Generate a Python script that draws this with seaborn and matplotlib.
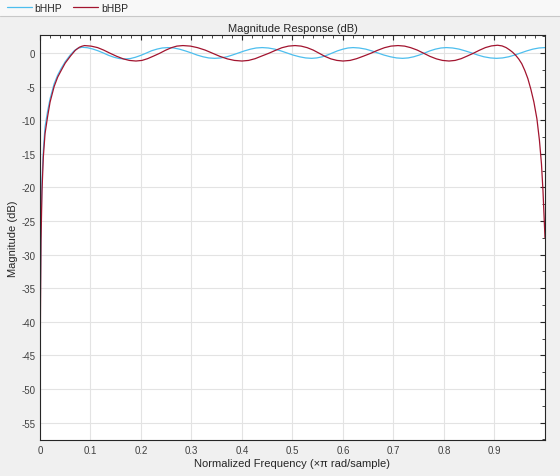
import numpy as np
import pandas as pd
import matplotlib
matplotlib.use("Agg")
import matplotlib.pyplot as plt
from matplotlib.patches import Rectangle
from matplotlib.ticker import MultipleLocator
import seaborn as sns

# values
freq_hhp = [0, 0.001, 0.002, 0.004, 0.0066, 0.01, 0.015, 0.02, 0.028, 0.035,
            0.042, 0.05, 0.06, 0.068, 0.075, 0.083,
            0.094, 0.104, 0.115, 0.126, 0.136, 0.147, 0.157, 0.168,
            0.179, 0.189, 0.2, 0.211, 0.221, 0.232, 0.242, 0.253,
            0.265, 0.276, 0.288, 0.3, 0.311, 0.323, 0.334, 0.346,
            0.358, 0.37, 0.381, 0.393, 0.405, 0.417, 0.428, 0.44,
            0.452, 0.465, 0.477, 0.489, 0.501, 0.514, 0.526, 0.538,
            0.548, 0.559, 0.569, 0.579, 0.589, 0.6, 0.61, 0.62,
            0.632, 0.645, 0.657, 0.669, 0.681, 0.694, 0.706, 0.718,
            0.729, 0.74, 0.751, 0.762, 0.772, 0.783, 0.794, 0.805,
            0.817, 0.83, 0.842, 0.855, 0.867, 0.879, 0.892, 0.904,
            0.916, 0.928, 0.94, 0.952, 0.964, 0.976, 0.988, 1.0]
mag_hhp = [-45, -34, -26, -19, -14.5, -11, -8.7, -6.8, -4.6, -3.3,
           -2.3, -1.3, -0.3, 0.35, 0.7, 0.85,
           0.78, 0.6, 0.32, -0.02, -0.36, -0.65, -0.83, -0.9,
           -0.83, -0.64, -0.35, 0.0, 0.33, 0.58, 0.74, 0.8,
           0.74, 0.57, 0.3, 0.0, -0.31, -0.57, -0.74, -0.8,
           -0.74, -0.57, -0.31, 0.0, 0.31, 0.57, 0.74, 0.8,
           0.74, 0.57, 0.31, 0.0, -0.31, -0.57, -0.74, -0.8,
           -0.74, -0.57, -0.31, 0.0, 0.31, 0.57, 0.74, 0.8,
           0.74, 0.57, 0.31, 0.0, -0.31, -0.57, -0.74, -0.8,
           -0.74, -0.57, -0.31, 0.0, 0.31, 0.57, 0.74, 0.8,
           0.74, 0.57, 0.31, 0.0, -0.31, -0.57, -0.74, -0.8,
           -0.74, -0.57, -0.31, 0.0, 0.31, 0.57, 0.74, 0.8]

freq_hbp = [0, 0.001, 0.002, 0.004, 0.0066, 0.01, 0.015, 0.02, 0.028, 0.035,
            0.042, 0.05, 0.061, 0.07, 0.078, 0.083, 0.088,
            0.101, 0.114, 0.126, 0.139, 0.152, 0.165, 0.177, 0.19,
            0.202, 0.213, 0.225, 0.237, 0.248, 0.26, 0.271, 0.283,
            0.298, 0.312, 0.327, 0.342, 0.356, 0.371, 0.385, 0.4,
            0.413, 0.426, 0.439, 0.453, 0.466, 0.479, 0.492, 0.505,
            0.517, 0.529, 0.541, 0.553, 0.564, 0.576, 0.588, 0.6,
            0.614, 0.627, 0.641, 0.655, 0.668, 0.682, 0.695, 0.709,
            0.722, 0.734, 0.747, 0.76, 0.772, 0.785, 0.797, 0.81,
            0.822, 0.834, 0.846, 0.858, 0.87, 0.882, 0.894, 0.906,
            0.915, 0.923, 0.93, 0.936, 0.942, 0.948, 0.954, 0.96,
            0.966, 0.972, 0.978, 0.984, 0.989, 0.993, 0.996, 0.998, 1.0]
mag_hbp = [-52, -38, -28, -20.5, -15.5, -12, -9.5, -7.3, -5.0, -3.6,
           -2.6, -1.5, -0.4, 0.4, 0.85, 1.0, 1.1,
           1.02, 0.8, 0.43, -0.05, -0.5, -0.88, -1.11, -1.2,
           -1.11, -0.85, -0.46, -0.05, 0.38, 0.78, 1.02, 1.1,
           1.02, 0.79, 0.43, -0.05, -0.5, -0.88, -1.11, -1.2,
           -1.11, -0.85, -0.46, -0.05, 0.38, 0.78, 1.02, 1.1,
           1.02, 0.79, 0.43, -0.05, -0.5, -0.88, -1.11, -1.2,
           -1.11, -0.85, -0.46, -0.05, 0.38, 0.78, 1.02, 1.1,
           1.02, 0.79, 0.43, -0.05, -0.5, -0.88, -1.11, -1.2,
           -1.11, -0.85, -0.46, -0.05, 0.4, 0.8, 1.05, 1.15,
           1.05, 0.8, 0.45, 0.1, -0.35, -0.9, -1.6, -2.6,
           -3.8, -5.4, -7.3, -9.8, -13, -16.5, -20.5, -24, -27.5]

series = ["bHHP", "bHBP"]
colors = ["#4DBEEE", "#A2142F"]

df = pd.concat([
    pd.DataFrame({"f": freq_hhp, "dB": mag_hhp, "filter": "bHHP"}),
    pd.DataFrame({"f": freq_hbp, "dB": mag_hbp, "filter": "bHBP"}),
])

sns.set_style("white")
plt.rcParams["font.family"] = ["Liberation Sans", "DejaVu Sans"]
plt.rcParams["axes.unicode_minus"] = False

fig = plt.figure(figsize=(5.6, 4.77), dpi=100, facecolor="#f0f0f0")
# legend strip at the top
fig.patches.append(Rectangle((0, 1 - 17 / 477), 1, 17 / 477, transform=fig.transFigure,
                             facecolor="#f8f8f8", edgecolor="none", zorder=0))
fig.add_artist(plt.Line2D([0, 1], [1 - 17 / 477] * 2, color="#c8c8c8", lw=0.8))

ax = fig.add_axes([0.0714, 0.0755, 0.9018, 0.848])
ax.set_facecolor("white")

sns.lineplot(data=df, x="f", y="dB", hue="filter", hue_order=series,
             palette=colors, linewidth=0.9, sort=False, ax=ax, legend=False)

ax.set_xlim(0, 1)
ax.set_ylim(-57.6, 2.6)
ax.xaxis.set_major_locator(MultipleLocator(0.1))
ax.xaxis.set_minor_locator(MultipleLocator(0.02))
ax.yaxis.set_major_locator(MultipleLocator(5))
ax.yaxis.set_minor_locator(MultipleLocator(2.5))
xt = np.round(np.arange(0, 1.0, 0.1), 1)
ax.set_xticks(xt)
ax.set_xticklabels(["0"] + [f"{v:.1f}" for v in xt[1:]])
ax.grid(True, which="major", color="#e3e3e3", linewidth=0.8)
ax.tick_params(which="both", direction="in", top=True, right=True,
               labelsize=7, colors="#262626", labelcolor="#404040")
ax.tick_params(which="major", length=3.5)
ax.tick_params(which="minor", length=2)
for s in ax.spines.values():
    s.set_color("#262626")
    s.set_linewidth(0.8)

ax.set_title("Magnitude Response (dB)", fontsize=8, color="#262626", pad=3)
ax.set_xlabel("Normalized Frequency (\u00d7\u03c0 rad/sample)", fontsize=8, color="#262626", labelpad=2)
ax.set_ylabel("Magnitude (dB)", fontsize=8, color="#262626", labelpad=2)

handles = [plt.Line2D([], [], color=c, lw=0.9) for c in colors]
fig.legend(handles, series, loc="upper left", bbox_to_anchor=(-0.005, 1.012), ncol=2,
           frameon=False, fontsize=7.5, handlelength=2.4, handletextpad=0.25,
           columnspacing=1.1)

fig.savefig("out.png", dpi=100, facecolor=fig.get_facecolor())
